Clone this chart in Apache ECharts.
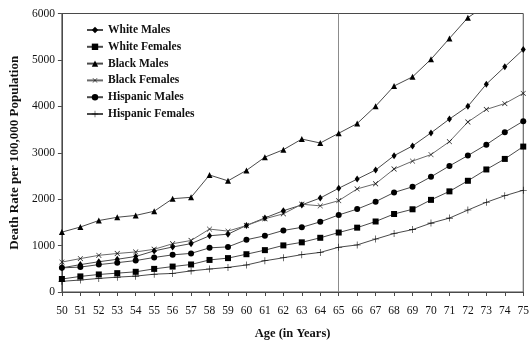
<!DOCTYPE html>
<html>
<head>
<meta charset="utf-8">
<script src="https://cdn.jsdelivr.net/npm/echarts@6/dist/echarts.min.js"></script>
<style>
  html, body { margin: 0; padding: 0; background: #fff; }
  #chart { width: 532px; height: 345px; }
</style>
</head>
<body>
<div id="chart"></div>
<script>
// Ages on the horizontal axis
const ages = [50, 51, 52, 53, 54, 55, 56, 57, 58, 59, 60, 61, 62, 63, 64, 65, 66, 67, 68, 69, 70, 71, 72, 73, 74, 75];

// Death rates per 100,000 population
const whiteMales      = [520, 590, 652, 705, 765, 885, 970, 1042, 1211, 1246, 1435, 1596, 1751, 1877, 2025, 2235, 2432, 2628, 2937, 3147, 3428, 3726, 4000, 4478, 4853, 5225];
const whiteFemales    = [280, 336, 378, 406, 435, 498, 548, 593, 691, 730, 814, 902, 1004, 1070, 1168, 1281, 1386, 1519, 1681, 1782, 1985, 2168, 2396, 2640, 2867, 3133];
const blackMales      = [1290, 1400, 1540, 1610, 1650, 1740, 2010, 2040, 2520, 2395, 2620, 2905, 3065, 3295, 3210, 3420, 3630, 4004, 4438, 4635, 5014, 5463, 5911, 6180, 6650, 7100];
const blackFemales    = [645, 720, 790, 830, 863, 920, 1040, 1110, 1355, 1312, 1432, 1578, 1684, 1891, 1856, 1968, 2221, 2333, 2649, 2820, 2960, 3239, 3663, 3933, 4060, 4280];
const hispanicMales   = [520, 537, 590, 632, 677, 744, 800, 832, 951, 972, 1126, 1211, 1326, 1393, 1512, 1660, 1786, 1947, 2144, 2266, 2481, 2716, 2940, 3175, 3442, 3680];
const hispanicFemales = [230, 258, 292, 320, 342, 384, 400, 455, 495, 530, 582, 673, 737, 804, 853, 965, 1014, 1140, 1260, 1344, 1484, 1592, 1765, 1933, 2074, 2193];

const seriesNames = ['White Males', 'White Females', 'Black Males', 'Black Females', 'Hispanic Males', 'Hispanic Females'];
const retirementAge = 65;

const FONT = '"Liberation Serif", "DejaVu Serif", serif';
const LINE = '#4a4a4a';

// thin plus sign; rotated 45 degrees it becomes a cross
const plusPath = 'path://M0,4.6H10V5.4H0Z M4.6,0H5.4V10H4.6Z';

const styles = [
  { symbol: 'diamond', symbolSize: [5, 7] },
  { symbol: 'rect', symbolSize: 6 },
  { symbol: 'triangle', symbolSize: 6 },
  { symbol: plusPath, symbolSize: 7, symbolRotate: 45, lineColor: '#6a6a6a' },
  { symbol: 'circle', symbolSize: 6 },
  { symbol: plusPath, symbolSize: 7 }
];

const values = [whiteMales, whiteFemales, blackMales, blackFemales, hispanicMales, hispanicFemales];

const series = values.map((vals, i) => {
  const st = styles[i];
  const s = {
    name: seriesNames[i],
    type: 'line',
    data: ages.map((a, k) => [a, vals[k]]),
    symbol: st.symbol,
    symbolSize: st.symbolSize,
    symbolRotate: st.symbolRotate || 0,
    showSymbol: true,
    clip: true,
    lineStyle: { color: st.lineColor || LINE, width: 1 },
    itemStyle: { color: '#000' },
    emphasis: { disabled: true },
    z: 3
  };
  if (i === 0) {
    s.markLine = {
      silent: true,
      symbol: 'none',
      label: { show: false },
      lineStyle: { color: '#8c8c8c', type: 'solid', width: 1 },
      data: [{ xAxis: retirementAge }],
      z: 1
    };
  }
  return s;
});

const chart = echarts.init(document.getElementById('chart'), null, { renderer: 'canvas' });
chart.setOption({
  animation: false,
  backgroundColor: '#fff',
  textStyle: { fontFamily: FONT },
  grid: {
    left: 57, right: 7, top: 13.5, bottom: 46,
    show: true, borderColor: '#4a4a4a', borderWidth: 1
  },
  legend: {
    orient: 'vertical',
    left: 81, top: 19,
    itemWidth: 16, itemHeight: 8,
    itemGap: 4.8,
    textStyle: { fontFamily: FONT, fontSize: 11.5, fontWeight: 'bold', color: '#111' },
    data: seriesNames
  },
  xAxis: {
    type: 'value',
    min: 50, max: 75, interval: 1,
    name: 'Age (in Years)',
    nameLocation: 'middle',
    nameGap: 35,
    nameTextStyle: { fontFamily: FONT, fontSize: 12.5, fontWeight: 'bold', color: '#111' },
    axisLine: { lineStyle: { color: '#4a4a4a', width: 1 } },
    axisTick: { show: true, length: 4, lineStyle: { color: '#4a4a4a' } },
    axisLabel: { fontFamily: FONT, fontSize: 11.5, color: '#111', margin: 13 },
    splitLine: { show: false }
  },
  yAxis: {
    type: 'value',
    min: 0, max: 6000, interval: 1000,
    name: 'Death Rate per 100,000 Population',
    nameLocation: 'middle',
    nameRotate: 90,
    nameGap: 36,
    nameTextStyle: { fontFamily: FONT, fontSize: 13, fontWeight: 'bold', color: '#111' },
    axisLine: { show: true, lineStyle: { color: '#4a4a4a', width: 1 } },
    axisTick: { show: true, length: 4, lineStyle: { color: '#4a4a4a' } },
    axisLabel: { fontFamily: FONT, fontSize: 11.5, color: '#111', margin: 7, formatter: v => String(v) },
    splitLine: { show: false }
  },
  series: series
});
</script>
</body>
</html>
